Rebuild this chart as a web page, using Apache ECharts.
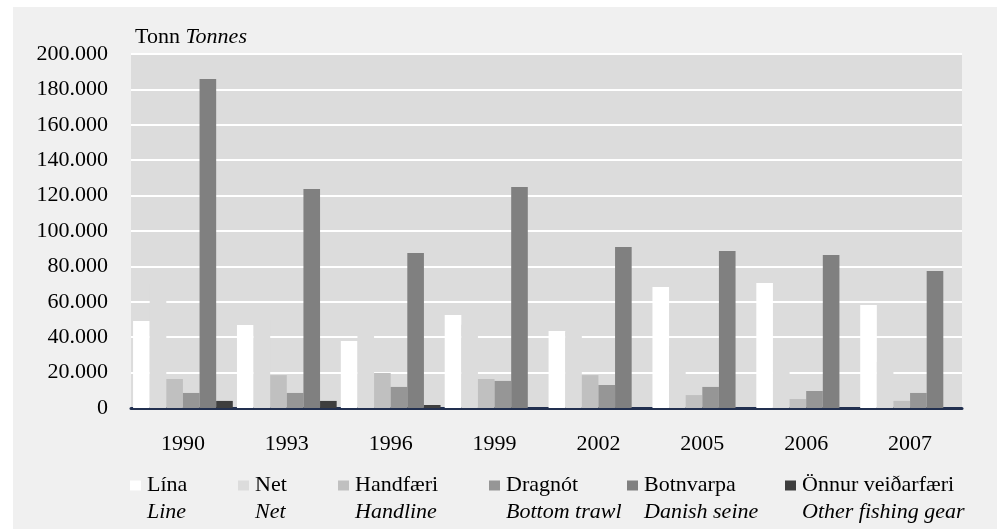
<!DOCTYPE html>
<html>
<head>
<meta charset="utf-8">
<script src="https://cdn.jsdelivr.net/npm/echarts@6/dist/echarts.min.js"></script>
<style>
html,body{margin:0;padding:0;background:#ffffff;}
#chart{width:1002px;height:529px;}
</style>
</head>
<body>
<div id="chart"></div>
<script>
// ---- data ----
const categories = ['1990','1993','1996','1999','2002','2005','2006','2007'];
const lina      = [49200, 46900, 37900, 52500, 43500, 68400, 70600, 58200];
const net       = [70000, 50000, 44000, 47000, 43000, 35000, 27000, 26000];
const handfaeri = [16400, 18600, 19800, 16400, 18600, 7300, 5100, 4000];
const dragnot   = [8500, 8500, 11900, 15300, 13000, 11900, 9600, 8500];
const botnvarpa = [185900, 123700, 87600, 124900, 91000, 88700, 86400, 77400];
const onnur     = [4000, 4000, 1700, 0, 0, 0, 0, 0];
const namesIs = ['Lína','Net','Handfæri','Dragnót','Botnvarpa','Önnur veiðarfæri'];
const namesEn = ['Line','Net','Handline','Bottom trawl','Danish seine','Other fishing gear'];
const yTicks = {min: 0, max: 200000, interval: 20000};

// ---- styles ----
const colors = ['#ffffff','#dcdcdc','#c0c0c0','#969696','#808080','#3e3e3e'];
const legendLeft = [130, 238, 338, 489, 627, 785];
const FONT = '"Liberation Serif", "Times New Roman", serif';
const seriesData = [lina, net, handfaeri, dragnot, botnvarpa, onnur];

function fmt(v){
  if (v === 0) return '0';
  const s = String(Math.round(v));
  return s.replace(/\B(?=(\d{3})+(?!\d))/g, '.');
}

const series = namesIs.map((n, i) => ({
  name: n,
  type: 'bar',
  data: seriesData[i],
  barGap: '0%',
  barCategoryGap: '4%',
  itemStyle: {color: colors[i]},
  emphasis: {disabled: true},
  silent: true
}));

const legends = namesIs.map((n, i) => {
  const rich = {
    sq: {width: 11, height: 10, backgroundColor: colors[i], verticalAlign: 'middle'},
    gap: {width: 6},
    sp: {width: 17},
    is: {fontFamily: FONT, fontSize: 22, fontWeight: 'normal', color: '#000', lineHeight: 27},
    en: {fontFamily: FONT, fontSize: 22, fontWeight: 'normal', fontStyle: 'italic', color: '#000', lineHeight: 27}
  };
  return {
    data: [n],
    left: legendLeft[i] - 5,
    top: 472,
    padding: 0,
    itemWidth: 0,
    itemHeight: 10,
    selectedMode: false,
    formatter: () => '{sq|}{gap|}{is|' + namesIs[i] + '}\n{sp|}{en|' + namesEn[i] + '}',
    textStyle: {rich: rich, fontFamily: FONT, fontSize: 22, lineHeight: 27}
  };
});

const chart = echarts.init(document.getElementById('chart'), null, {renderer: 'canvas'});
chart.setOption({
  backgroundColor: '#ffffff',
  animation: false,
  textStyle: {fontFamily: FONT},
  graphic: [{
    type: 'rect', z: -10, silent: true,
    shape: {x: 13, y: 7, width: 984, height: 522},
    style: {fill: '#f0f0f0'}
  }],
  title: {
    text: '{a|Tonn} {b|Tonnes}',
    left: 135, top: 26, padding: 0,
    textStyle: {
      fontWeight: 'normal', fontFamily: FONT, fontSize: 22,
      rich: {
        a: {fontFamily: FONT, fontSize: 22, fontWeight: 'normal', color: '#000'},
        b: {fontFamily: FONT, fontSize: 22, fontWeight: 'normal', fontStyle: 'italic', color: '#000'}
      }
    }
  },
  legend: legends,
  grid: {
    left: 131, right: 40, top: 54, bottom: 121,
    show: true, backgroundColor: '#dcdcdc', borderWidth: 0
  },
  xAxis: {
    type: 'category',
    data: categories,
    axisLine: {lineStyle: {color: '#223050', width: 3}},
    axisTick: {show: false},
    axisLabel: {fontFamily: FONT, fontSize: 22, color: '#000', margin: 25}
  },
  yAxis: {
    type: 'value',
    min: yTicks.min, max: yTicks.max, interval: yTicks.interval,
    axisLine: {show: false},
    axisTick: {show: false},
    splitLine: {lineStyle: {color: '#ffffff', width: 2}},
    axisLabel: {fontFamily: FONT, fontSize: 22, color: '#000', margin: 23, formatter: fmt}
  },
  series: series
});
</script>
</body>
</html>
